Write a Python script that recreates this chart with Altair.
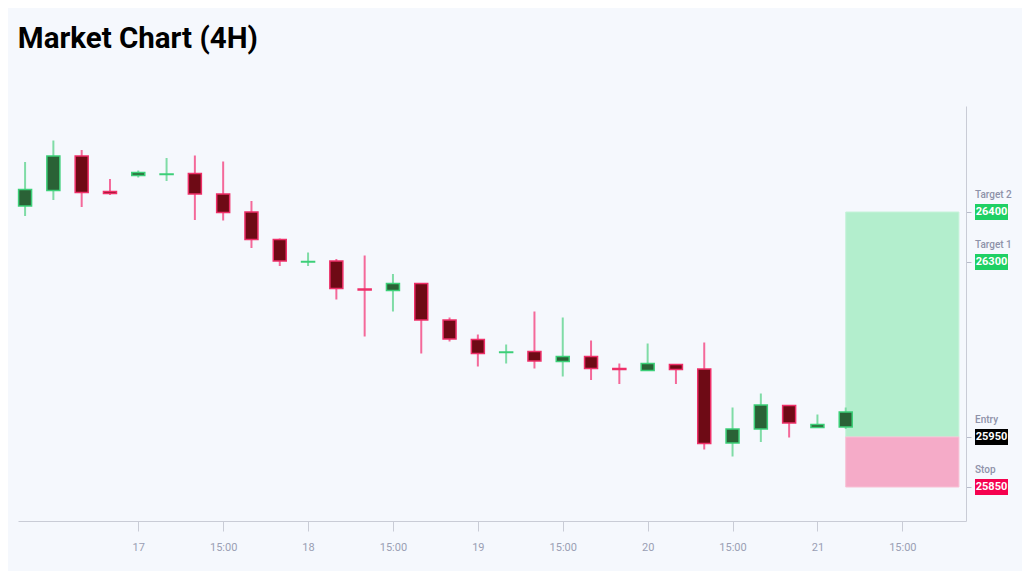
import altair as alt
import pandas as pd

# ---------------- data ----------------
opens  = [26412, 26443, 26512, 26441, 26473, 26475, 26477, 26436, 26400, 26345,
          26300, 26302, 26246, 26243, 26257, 26184, 26145, 26119, 26121, 26101,
          26111, 26087, 26083, 26095, 26086, 25938, 25966, 26013, 25969, 25970]
highs  = [26500, 26543, 26524, 26466, 26483, 26508, 26513, 26501, 26422, 26347,
          26319, 26306, 26313, 26276, 26258, 26189, 26155, 26135, 26201, 26189,
          26143, 26097, 26137, 26095, 26139, 26009, 26037, 26014, 25995, 26009]
lows   = [26392, 26424, 26410, 26434, 26469, 26462, 26384, 26383, 26328, 26292,
          26292, 26225, 26151, 26201, 26117, 26141, 26091, 26097, 26087, 26071,
          26064, 26056, 26083, 26056, 25925, 25911, 25940, 25949, 25969, 25966]
closes = [26445, 26512, 26439, 26437, 26479, 26476, 26436, 26399, 26345, 26302,
          26301, 26247, 26244, 26257, 26184, 26146, 26117, 26120, 26102, 26111,
          26087, 26085, 26097, 26085, 25937, 25966, 26014, 25978, 25975, 26000]

tick_positions = [4, 7, 10, 13, 16, 19, 22, 25, 28, 31]
tick_labels = ["17", "15:00", "18", "15:00", "19", "15:00", "20", "15:00", "21", "15:00"]

level_values = [26400, 26300, 25950, 25850]
level_names = ["Target 2", "Target 1", "Entry", "Stop"]

zone_start, zone_end = 29, 33
entry_price, target_price, stop_price = 25950, 26400, 25850

# ---------------- frames ----------------
candles = pd.DataFrame({
    "i": list(range(len(opens))),
    "open": opens, "high": highs, "low": lows, "close": closes,
})

zones = pd.DataFrame({
    "x": [zone_start, zone_start],
    "x2": [zone_end, zone_end],
    "y": [entry_price, stop_price],
    "y2": [target_price, entry_price],
    "kind": ["profit", "loss"],
})

levels = pd.DataFrame({"price": level_values, "name": level_names})

X_DOMAIN = [-0.25, 33.25]
Y_DOMAIN = [25782, 26612]

label_expr = " : ".join(
    f"datum.value == {p} ? '{l}'" for p, l in zip(tick_positions, tick_labels)
) + " : ''"

xscale = alt.Scale(domain=X_DOMAIN, nice=False, zero=False, padding=0)
yscale = alt.Scale(domain=Y_DOMAIN, nice=False, zero=False, padding=0)

x_axis = alt.Axis(
    values=tick_positions, labelExpr=label_expr, title=None, grid=False,
    domainColor="#c9ccd6", tickColor="#c9ccd6", tickSize=10, labelPadding=10,
    labelColor="#9a9fb4", labelFontSize=11, labelFont="Roboto",
)
y_axis = alt.Axis(
    orient="right", values=level_values, labels=False, title=None, grid=False,
    domainColor="#c9ccd6", tickColor="#b8bccb", tickSize=5,
)

UP = "datum.close >= datum.open"
PROFIT = "datum.kind == 'profit'"

zone_layer = alt.Chart(zones).mark_rect(strokeWidth=1).encode(
    x=alt.X("x:Q", scale=xscale, axis=x_axis),
    x2="x2:Q",
    y=alt.Y("y:Q", scale=yscale, axis=y_axis),
    y2="y2:Q",
    fill=alt.condition(PROFIT, alt.value("#b3eecd"), alt.value("#f5abc8")),
    stroke=alt.condition(PROFIT, alt.value("#c6f3da"), alt.value("#f8c0d5")),
)

wicks = alt.Chart(candles).mark_rule(strokeWidth=2).encode(
    x=alt.X("i:Q", scale=xscale),
    y=alt.Y("low:Q", scale=yscale),
    y2="high:Q",
    color=alt.condition(UP, alt.value("#7fdca6"), alt.value("#f4699a")),
)

bodies = alt.Chart(candles).mark_bar(size=13, strokeWidth=1.5).encode(
    x=alt.X("i:Q", scale=xscale),
    y=alt.Y("open:Q", scale=yscale),
    y2="close:Q",
    fill=alt.condition(UP, alt.value("#2a6236"), alt.value("#6e0a15")),
    stroke=alt.condition(UP, alt.value("#3ccf78"), alt.value("#ee2f68")),
)

LEVEL_COLOR = ("datum.name == 'Entry' ? '#000000' : "
               "datum.name == 'Stop' ? '#f5024f' : '#1fd064'")

badges = alt.Chart(levels).mark_rect(yOffset=-8, y2Offset=8).encode(
    x=alt.value(957), x2=alt.value(990),
    y=alt.Y("price:Q", scale=yscale),
    y2="price:Q",
    fill=alt.value({"expr": LEVEL_COLOR}),
)

badge_text = alt.Chart(levels).mark_text(
    font="Roboto", fontSize=11, fontWeight="bold", color="white", align="center", baseline="middle"
).encode(
    x=alt.value(973.5),
    y=alt.Y("price:Q", scale=yscale),
    text=alt.Text("price:Q", format="d"),
)

badge_name = alt.Chart(levels).mark_text(
    font="Roboto", fontSize=10, fontWeight=500, color="#8e92a9", align="left", baseline="middle", dy=-17
).encode(
    x=alt.value(957),
    y=alt.Y("price:Q", scale=yscale),
    text="name:N",
)

chart = alt.layer(zone_layer, wicks, bodies, badges, badge_text, badge_name).properties(
    width=948, height=415,
    title=alt.TitleParams("Market Chart (4H)", anchor="start", font="Roboto", fontSize=29.5,
                          fontWeight="bold", color="#000000", offset=52),
    background="#f5f8fd",
    padding={"left": 10, "top": 98, "right": 56, "bottom": 50},
    autosize=alt.AutoSizeParams(type="none"),
).configure_view(stroke=None)

chart.save("out.html", embed_options={"renderer": "svg", "actions": False})
